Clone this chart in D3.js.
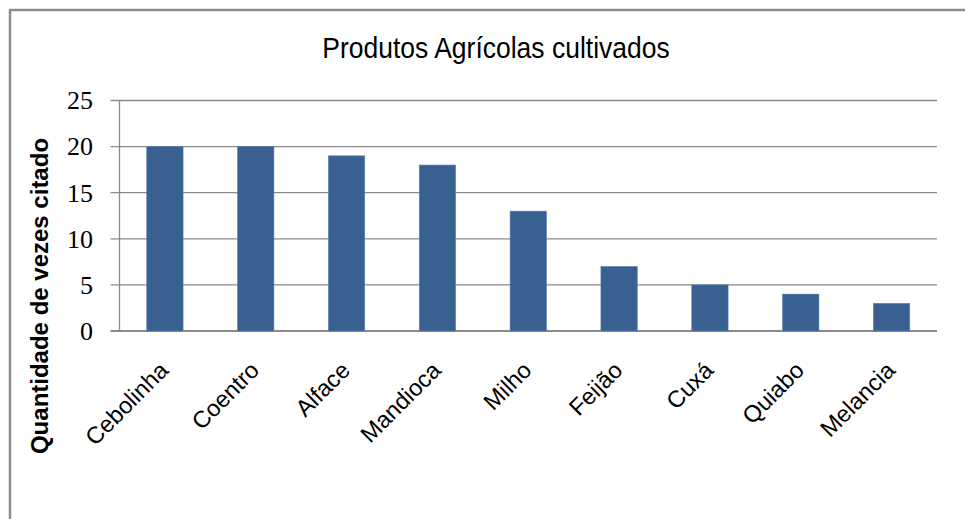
<!DOCTYPE html>
<html><head><meta charset="utf-8">
<script src="https://cdn.jsdelivr.net/npm/d3@7"></script>
<style>body{margin:0;background:#fff}svg{display:block}</style>
</head><body><svg id="c" width="965" height="519"></svg>
<script>
const categories = ["Cebolinha","Coentro","Alface","Mandioca","Milho","Feijão","Cuxá","Quiabo","Melancia"];
const values = [20,20,19,18,13,7,5,4,3];
const yTicks = [0,5,10,15,20,25];
const title = "Produtos Agrícolas cultivados";
const yTitle = "Quantidade de vezes citado";

const svg = d3.select("#c");
// outer frame
svg.append("path").attr("d","M10,519 V10 H965").attr("fill","none").attr("stroke","#8c8c8c").attr("stroke-width",2.5);

const L=119.5, R=937, T=100.5, B=331;
const x = d3.scaleBand().domain(categories).range([L,R]).paddingInner(0.6).paddingOuter(0.3);
const xc = d3.scaleBand().domain(categories).range([L,R]);
const y = d3.scaleLinear().domain([0,25]).range([B,T]);

// gridlines
const g = svg.append("g");
g.selectAll("line.grid").data(yTicks).join("line")
  .attr("x1",L-9).attr("x2",R).attr("y1",d=>y(d)).attr("y2",d=>y(d))
  .attr("stroke","#8a8a8a").attr("stroke-width",d=>d===0?2:1.3);
g.append("line").attr("x1",L).attr("x2",L).attr("y1",T).attr("y2",B).attr("stroke","#8a8a8a").attr("stroke-width",1.3);

// bars
svg.selectAll("rect.bar").data(values).join("rect")
  .attr("x",(d,i)=>x(categories[i])).attr("width",x.bandwidth())
  .attr("y",d=>y(d)).attr("height",d=>B-y(d))
  .attr("fill","#386192").attr("stroke","#5b7fae").attr("stroke-width",0.6);

// y tick labels
svg.selectAll("text.yt").data(yTicks).join("text")
  .attr("x",93).attr("y",d=>y(d)).attr("dy","0.34em").attr("text-anchor","end")
  .attr("font-family","Liberation Serif, serif").attr("font-size",26).attr("fill","#000").text(d=>d);

// x labels
svg.selectAll("text.xt").data(categories).join("text")
  .attr("transform",d=>`translate(${xc(d)+xc.bandwidth()/2-1},${366}) rotate(-45)`)
  .attr("text-anchor","end").attr("dy","0.35em")
  .attr("font-family","Liberation Sans, Arial, sans-serif").attr("font-size",23.5).attr("fill","#000").text(d=>d);

// title
svg.append("text").attr("transform","translate(496,58) scale(1,1.12)").attr("text-anchor","middle")
  .attr("font-family","Liberation Sans, Arial, sans-serif").attr("font-size",26.5).attr("fill","#000").text(title);

// y title
svg.append("text").attr("transform","translate(48,296) rotate(-90)").attr("text-anchor","middle")
  .attr("font-family","Liberation Sans, Arial, sans-serif").attr("font-size",24).attr("font-weight","bold").attr("fill","#000").text(yTitle);
</script></body></html>
